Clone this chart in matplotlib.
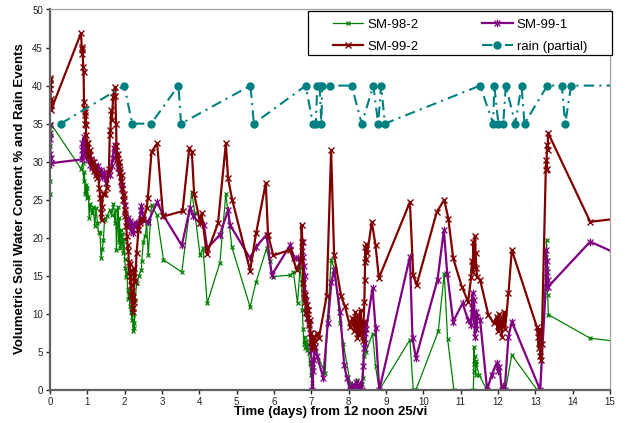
import matplotlib
matplotlib.use("Agg")
import matplotlib.pyplot as plt
from matplotlib.path import Path
from matplotlib.patches import Rectangle

plt.rcParams['font.family'] = ['Liberation Sans', 'DejaVu Sans']

# ---- data ----
sm98_2_day = [0.00, 0.00, 0.01, 0.01, 0.02, 0.02,
              0.83, 0.88, 0.90, 0.92, 0.94, 0.96, 0.98, 1.00, 1.03, 1.05, 1.08, 1.12, 1.16, 1.20,
              1.23, 1.27, 1.30, 1.34, 1.37, 1.40, 1.43, 1.46, 1.52, 1.60, 1.65, 1.70, 1.74, 1.76,
              1.78, 1.80, 1.82, 1.84, 1.86, 1.88, 1.90, 1.92, 1.94, 1.96, 1.98, 2.00, 2.02, 2.04,
              2.06, 2.08, 2.10, 2.12, 2.14, 2.16, 2.18, 2.19, 2.21, 2.23, 2.24, 2.26, 2.28, 2.32,
              2.38, 2.45, 2.46, 2.50, 2.55, 2.59, 2.63, 2.72, 2.86, 3.04, 3.53, 3.80, 3.88, 4.02,
              4.10, 4.21, 4.55, 4.71, 4.87, 5.36, 5.52, 5.80, 5.88, 5.98, 6.43, 6.52, 6.63, 6.70,
              6.74, 6.76, 6.78, 6.80, 6.82, 6.84, 6.86, 6.88, 6.90, 6.93, 6.96, 6.99, 7.03, 7.05,
              7.10, 7.37, 7.44, 7.53, 7.63, 7.77, 7.86, 8.04, 8.08, 8.21, 8.28, 8.35, 8.39, 8.41,
              8.44, 8.46, 8.64, 8.72, 8.82, 9.64, 9.73, 9.80, 10.40, 10.56, 10.65, 10.82, 11.34,
              11.35, 11.36, 11.37, 11.38, 11.40, 11.41, 11.42, 11.49, 11.70, 12.20, 12.37, 13.05,
              13.13, 13.28, 13.29, 13.30, 13.31, 13.33, 13.35, 14.47, 15.50]
sm98_2_val = [25.8, 27.5, 29.5, 32.0, 33.5, 35.0,
              29.1, 29.8, 27.5, 28.6, 25.8, 27.0, 25.2, 26.5, 25.4, 22.6, 24.5, 23.2, 24.0, 21.5,
              23.9, 22.0, 20.8, 20.6, 17.3, 18.5, 19.7, 22.3, 22.8, 23.6, 23.0, 24.5, 22.0, 23.6,
              18.4, 21.5, 24.0, 19.5, 22.6, 18.6, 21.0, 19.2, 20.5, 18.0, 19.8, 17.2, 16.0, 14.8,
              15.5, 13.1, 12.0, 13.2, 11.1, 10.2, 11.0, 9.2, 9.8, 7.7, 8.8, 8.1, 11.8, 14.0,
              15.0, 15.8, 17.0, 19.5, 20.2, 21.9, 17.7, 24.3, 23.0, 17.1, 15.5, 26.0, 23.2, 17.7,
              18.6, 11.4, 16.7, 25.8, 18.8, 10.9, 14.2, 18.6, 16.9, 14.9, 15.1, 15.5, 11.4, 16.2,
              14.0, 10.5, 8.0, 6.1, 7.0, 5.5, 6.4, 5.2, 6.0, 4.8, 3.5, 2.0, 0.9, 3.0,
              5.3, 2.2, 9.6, 17.1, 15.8, 8.8, 6.1, 0.9, 0.0, 1.3, 0.3, 0.8, 1.6, 4.5,
              7.9, 5.0, 7.4, 3.1, 0.0, 6.6, 0.0, 0.0, 7.7, 15.3, 6.7, 0.0, 0.0,
              2.5, 5.7, 3.4, 4.5, 2.0, 3.8, 3.4, 2.0, 0.0, 0.0, 4.6, 0.0,
              0.0, 14.9, 17.5, 19.7, 16.0, 12.5, 9.9, 6.8, 6.2]

sm99_1_day = [0.00, 0.00, 0.01, 0.01, 0.02, 0.02,
              0.85, 0.86, 0.87, 0.88, 0.90, 0.91, 0.93, 0.95, 0.97, 0.99, 1.01, 1.04, 1.07, 1.10,
              1.13, 1.17, 1.20, 1.24, 1.28, 1.32, 1.36, 1.40, 1.45, 1.50, 1.55, 1.60, 1.65, 1.68,
              1.71, 1.74, 1.76, 1.78, 1.80, 1.82, 1.84, 1.86, 1.88, 1.90, 1.92, 1.94, 1.96, 1.98,
              2.00, 2.02, 2.05, 2.08, 2.11, 2.14, 2.17, 2.20, 2.23, 2.26, 2.30, 2.35, 2.40, 2.43,
              2.45, 2.50, 2.63, 2.87, 3.03, 3.53, 3.75, 3.84, 4.02, 4.12, 4.21, 4.55, 4.77, 4.82,
              5.36, 5.52, 5.80, 5.94, 6.43, 6.54, 6.64, 6.70, 6.74, 6.77, 6.78, 6.80, 6.82, 6.84,
              6.85, 6.87, 6.89, 6.91, 6.93, 6.96, 6.99, 7.01, 7.03, 7.05, 7.07, 7.09, 7.15, 7.32,
              7.44, 7.54, 7.61, 7.77, 7.88, 7.95, 8.04, 8.10, 8.15, 8.20, 8.25, 8.30, 8.35, 8.39,
              8.41, 8.43, 8.44, 8.45, 8.47, 8.64, 8.72, 8.82, 9.64, 9.71, 9.80, 10.38, 10.55,
              10.64, 10.80, 11.05, 11.20, 11.28, 11.30, 11.32, 11.34, 11.36, 11.38, 11.40, 11.42,
              11.44, 11.52, 11.71, 11.83, 11.96, 12.00, 12.04, 12.10, 12.14, 12.18, 12.28, 12.37,
              13.13, 13.28, 13.29, 13.30, 13.31, 13.33, 13.35, 14.47, 15.50]
sm99_1_val = [34.8, 33.8, 33.0, 31.0, 30.5, 29.8,
              30.3, 31.5, 32.4, 31.0, 33.2, 32.0, 31.2, 32.6, 30.6, 31.8, 30.2, 30.9, 29.6, 30.4,
              29.2, 30.0, 29.3, 28.6, 29.4, 28.2, 28.9, 28.0, 28.6, 27.2, 28.4, 28.3, 29.5, 30.5,
              31.8, 32.2, 31.0, 32.0, 30.4, 29.2, 30.0, 28.5, 29.0, 27.3, 26.5, 27.0, 25.6, 24.8,
              24.3, 23.2, 22.0, 22.6, 21.5, 22.2, 21.0, 21.8, 20.6, 21.5, 22.0, 21.2, 22.2, 23.6,
              24.2, 22.5, 22.1, 24.7, 23.0, 19.0, 23.9, 22.8, 21.9, 21.7, 18.6, 20.4, 23.6, 21.7,
              17.3, 18.8, 20.4, 15.1, 19.0, 17.3, 17.3, 16.8, 18.2, 19.4, 17.5, 16.3, 15.0, 12.5,
              10.1, 11.8, 9.5, 10.5, 8.8, 7.5, 5.2, 3.5, 0.0, 2.5, 3.9, 5.6, 4.5, 1.6,
              8.8, 14.2, 15.8, 10.3, 3.3, 1.6, 0.0, 0.6, 0.0, 1.0, 0.2, 0.8, 0.0, 3.1,
              5.5, 7.5, 8.8, 6.2, 8.0, 13.4, 8.1, 0.0, 17.5, 6.8, 4.2, 14.5, 21.0,
              15.3, 9.0, 11.4, 9.2, 8.5, 10.8, 12.7, 9.5, 11.8, 7.0, 10.2, 8.0,
              9.6, 9.2, 0.0, 2.0, 3.5, 2.5, 3.0, 0.0, 0.5, 0.0, 7.0, 9.0,
              0.0, 13.6, 18.4, 15.5, 17.0, 14.5, 13.6, 19.5, 17.2]

sm99_2_day = [0.00, 0.00, 0.01, 0.01, 0.02, 0.02, 0.03, 0.03,
              0.83, 0.85, 0.86, 0.87, 0.89, 0.90, 0.91, 0.92, 0.93, 0.94, 0.95, 0.96, 0.97,
              0.99, 1.01, 1.03, 1.05, 1.07, 1.10, 1.12, 1.15, 1.18, 1.20, 1.23, 1.26, 1.29, 1.32,
              1.35, 1.37, 1.38, 1.39, 1.42, 1.47, 1.52, 1.58, 1.60, 1.62, 1.64, 1.66, 1.69, 1.72,
              1.74, 1.75, 1.77, 1.78, 1.80, 1.82, 1.84, 1.86, 1.88, 1.90, 1.92, 1.94, 1.96, 1.98,
              2.00, 2.02, 2.04, 2.06, 2.08, 2.10, 2.11, 2.13, 2.14, 2.15, 2.16, 2.17, 2.18, 2.19,
              2.20, 2.21, 2.22, 2.23, 2.24, 2.25, 2.26, 2.28, 2.32, 2.37, 2.41, 2.45, 2.50, 2.59,
              2.62, 2.72, 2.87, 3.03, 3.55, 3.73, 3.80, 3.86, 4.02, 4.06, 4.20, 4.50, 4.71, 4.77,
              4.88, 5.36, 5.52, 5.78, 5.84, 5.98, 6.43, 6.61, 6.72, 6.74, 6.76, 6.78, 6.80, 6.82,
              6.84, 6.86, 6.88, 6.90, 6.92, 6.94, 6.96, 6.98, 7.00, 7.02, 7.04, 7.07, 7.10, 7.14,
              7.20, 7.41, 7.53, 7.61, 7.80, 7.90, 8.04, 8.10, 8.14, 8.18, 8.20, 8.23, 8.26, 8.29,
              8.32, 8.35, 8.38, 8.40, 8.42, 8.43, 8.44, 8.45, 8.46, 8.47, 8.50, 8.62, 8.72, 8.81,
              9.64, 9.73, 9.82, 10.36, 10.56, 10.67, 10.80, 11.03, 11.20, 11.28, 11.30, 11.32,
              11.34, 11.36, 11.38, 11.40, 11.42, 11.44, 11.52, 11.74, 11.88, 11.96, 11.99, 12.02,
              12.05, 12.08, 12.10, 12.13, 12.16, 12.19, 12.28, 12.37, 13.04, 13.07, 13.09, 13.11,
              13.13, 13.15, 13.17, 13.28, 13.29, 13.30, 13.31, 13.33, 13.34, 14.47, 15.50]
sm99_2_val = [41.0, 40.2, 39.5, 40.8, 38.2, 37.5, 37.8, 36.8,
              46.9, 45.1, 44.2, 44.8, 42.5, 41.8, 37.8, 37.0, 36.2, 35.0, 36.5, 34.8, 33.5,
              32.5, 31.0, 32.4, 30.8, 31.5, 30.2, 29.5, 30.0, 28.8, 29.4, 28.2, 27.8, 28.5, 26.5,
              25.2, 23.2, 22.3, 24.0, 25.8, 25.8, 26.5, 29.0, 33.5, 34.2, 36.8, 35.5, 38.5, 39.2,
              39.8, 38.6, 35.0, 32.0, 30.2, 31.0, 29.5, 30.0, 28.6, 27.5, 28.2, 26.4, 25.0, 25.8,
              23.6, 22.8, 21.5, 20.2, 19.0, 18.2, 16.8, 15.6, 16.5, 15.0, 13.8, 15.8, 12.5, 11.8,
              13.0, 10.8, 12.2, 10.3, 11.5, 14.8, 16.0, 14.2, 18.0, 21.0, 21.9, 22.5, 22.3, 23.9,
              25.2, 31.3, 32.4, 22.8, 23.5, 31.8, 31.3, 25.8, 22.0, 23.2, 17.9, 21.9, 32.4, 27.8,
              25.0, 15.7, 20.6, 27.2, 20.4, 17.7, 18.4, 15.8, 17.0, 21.7, 19.5, 14.0, 12.8, 11.5,
              12.5, 10.2, 11.2, 9.5, 10.5, 8.6, 9.2, 7.5, 6.2, 5.7, 7.0, 5.5, 6.4, 7.5,
              6.8, 12.3, 31.5, 17.7, 12.3, 11.0, 8.3, 9.5, 7.8, 10.2, 8.4, 6.8, 9.8, 7.2,
              10.5, 8.0, 6.5, 9.0, 11.5, 14.5, 16.8, 18.8, 17.2, 19.2, 18.0, 22.1, 19.0, 14.7,
              24.7, 15.1, 13.8, 23.4, 25.0, 22.5, 17.3, 13.6, 11.6, 14.8, 17.0, 15.5,
              19.5, 16.2, 20.3, 18.0, 16.0, 14.9, 14.5, 9.9, 8.8, 9.6, 7.8, 10.0,
              8.2, 9.5, 7.0, 8.8, 10.2, 8.0, 12.7, 18.4, 8.3, 7.0, 5.5, 8.0,
              4.5, 3.9, 6.0, 28.9, 30.2, 29.0, 32.2, 31.5, 33.8, 22.1, 22.7]

rain_day = [0.29, 1.99, 2.20, 2.71, 3.44, 3.51, 5.37, 5.46, 6.85, 7.04, 7.12, 7.16, 7.22,
            7.27, 7.29, 7.50, 8.08, 8.35, 8.66, 8.79, 8.87, 8.97, 11.52, 11.87, 11.90, 12.01,
            12.14, 12.21, 12.46, 12.63, 12.71, 13.32, 13.71, 13.80, 13.96, 15.50]
rain_val = [35, 40, 35, 35, 40, 35, 40, 35, 40, 35, 35, 40, 40,
            35, 40, 40, 40, 35, 40, 35, 40, 35, 40, 35, 40, 35,
            35, 40, 35, 40, 35, 40, 40, 35, 40, 40]

x_ticks = list(range(0, 16))
y_ticks = list(range(0, 51, 5))

# excel style "star" marker: an x with a vertical bar
star = Path([(-1, -1), (1, 1), (-1, 1), (1, -1), (0, -1.3), (0, 1.3)],
            [Path.MOVETO, Path.LINETO, Path.MOVETO, Path.LINETO, Path.MOVETO, Path.LINETO])

fig = plt.figure(figsize=(6.27, 4.23), dpi=100)
ax = fig.add_axes([50 / 627, 1 - 390 / 423, 560 / 627, 380.5 / 423])

ax.plot(sm98_2_day, sm98_2_val, color='#008000', lw=0.9, marker='x', ms=3.5, mew=0.9,
        label='SM-98-2')
ax.plot(sm99_1_day, sm99_1_val, color='#800080', lw=1.6, marker=star, ms=5.5, mew=0.9,
        mfc='none', label='SM-99-1')
ax.plot(sm99_2_day, sm99_2_val, color='#800000', lw=1.6, marker='x', ms=5, mew=1.0,
        label='SM-99-2')
ax.plot(rain_day, rain_val, color='#008080', lw=1.5, ls=(0, (5, 2.5, 1, 2.5)),
        marker='o', ms=5, label='rain (partial)')

ax.set_xlim(0, 15)
ax.set_ylim(0, 50)
ax.set_xticks(x_ticks)
ax.set_yticks(y_ticks)
ax.tick_params(labelsize=7, colors='#222222', length=3, width=1, direction='out', pad=2)

for side in ('left', 'bottom'):
    ax.spines[side].set_color('#606060')
    ax.spines[side].set_linewidth(1.6)
for side in ('top', 'right'):
    ax.spines[side].set_color('#a0a0a0')
    ax.spines[side].set_linewidth(0.9)

fig.text(20 / 627, 1 - 199 / 423, 'Volumetric Soil Water Content % and Rain Events',
         rotation=90, ha='center', va='center', fontsize=9.5, fontweight='bold')
fig.text(331 / 627, 1 - 412 / 423, 'Time (days) from 12 noon 25/vi',
         ha='center', va='center', fontsize=9.5, fontweight='bold')

# legend box (drawn separately so the entries can sit inset from the frame)
box = Rectangle((308 / 627, 1 - 55 / 423), 304 / 627, 44.3 / 423, transform=fig.transFigure,
                facecolor='white', edgecolor='black', lw=0.9, zorder=4)
fig.add_artist(box)

h, l = ax.get_legend_handles_labels()
order = [0, 2, 1, 3]
leg = fig.legend([h[i] for i in order], [l[i] for i in order], ncol=2,
                 loc='center', bbox_to_anchor=(333 / 627, 1 - 53 / 423, 254 / 627, 35 / 423),
                 mode='expand', borderaxespad=0, borderpad=0, fontsize=9.5, frameon=False,
                 handlelength=2.3, handletextpad=0.3, numpoints=1, labelspacing=0.75)
leg.set_zorder(5)

fig.savefig('out.png', dpi=100)
